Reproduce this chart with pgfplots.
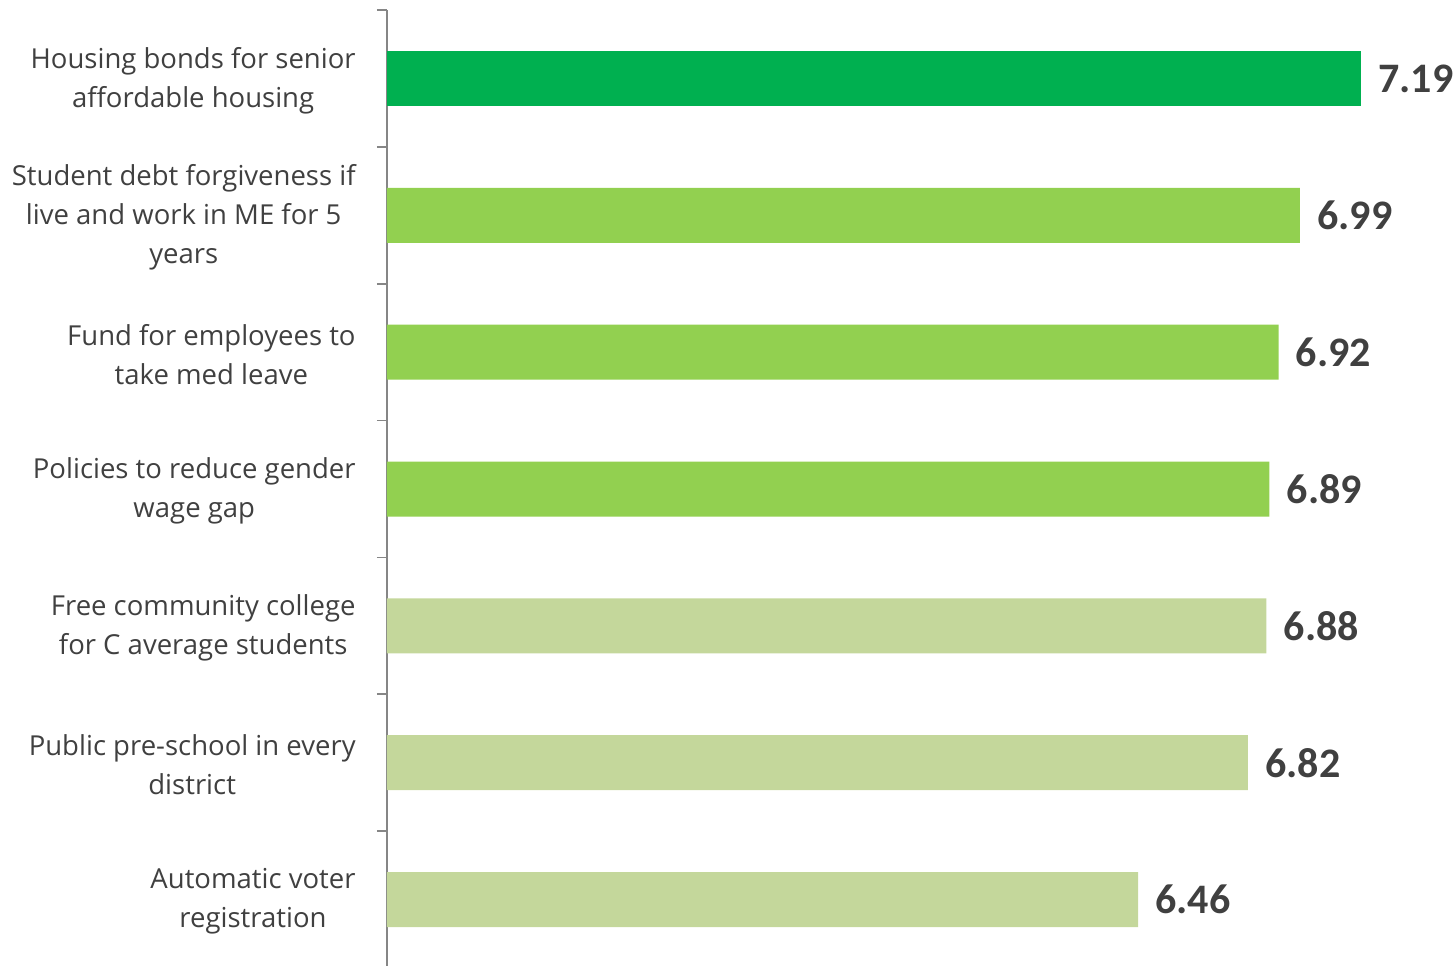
\documentclass[border=0pt]{standalone}
\usepackage{pgfplots}
\pgfplotsset{compat=1.18}
\usepackage{fontspec}
\setmainfont{Open Sans}
\newfontfamily\valfont{Carlito}
\definecolor{dkgreen}{HTML}{00B050}
\definecolor{ltgreen}{HTML}{92D050}
\definecolor{olive}{HTML}{C4D79B}
\definecolor{txt}{HTML}{404040}
\definecolor{axgray}{HTML}{868686}
\begin{document}
\begin{tikzpicture}
\begin{axis}[
  at={(0pt,0pt)}, anchor=south west,
  scale only axis, width=534.3pt, height=479pt,
  xbar, bar width=27.5pt, bar shift=0pt,
  xmin=4, xmax=7.5, ymin=-0.5, ymax=6.5,
  hide x axis,
  axis y line*=left,
  y axis line style={draw=axgray, line width=0.9pt},
  ytick={0,1,2,3,4,5,6},
  yticklabels={
    {Automatic voter\\registration},
    {Public pre-school in every\\district},
    {Free community college\\for C average students},
    {Policies to reduce gender\\wage gap},
    {Fund for employees to\\take med leave},
    {Student debt forgiveness if\\live and work in ME for 5\\years},
    {Housing bonds for senior\\affordable housing}},
  major tick length=0pt,
  minor ytick={-0.5,0.5,...,6.5},
  minor tick length=5pt,
  tick align=outside,
  minor y tick style={draw=axgray, line width=0.9pt},
  yticklabel style={align=center, font=\fontsize{13.75}{19.5}\selectfont, text=txt, inner sep=0pt, xshift=-15.5pt, yshift=-1pt},
  nodes near coords,
  point meta=x,
  every node near coord/.append style={anchor=west, inner sep=0pt, xshift=8.5pt, text=txt, font=\valfont\bfseries\fontsize{21}{25}\selectfont, /pgf/number format/.cd, fixed, fixed zerofill, precision=2, assume math mode=true},
  clip=false,
]
\addplot[draw=none, fill=dkgreen] coordinates {(7.19,6)};
\addplot[draw=none, fill=ltgreen] coordinates {(6.99,5) (6.92,4) (6.89,3)};
\addplot[draw=none, fill=olive] coordinates {(6.88,2) (6.82,1) (6.46,0)};
\end{axis}
\pgfresetboundingbox
\useasboundingbox (-193.5pt,1.5pt) rectangle (533.5pt,484pt);
\end{tikzpicture}
\end{document}
